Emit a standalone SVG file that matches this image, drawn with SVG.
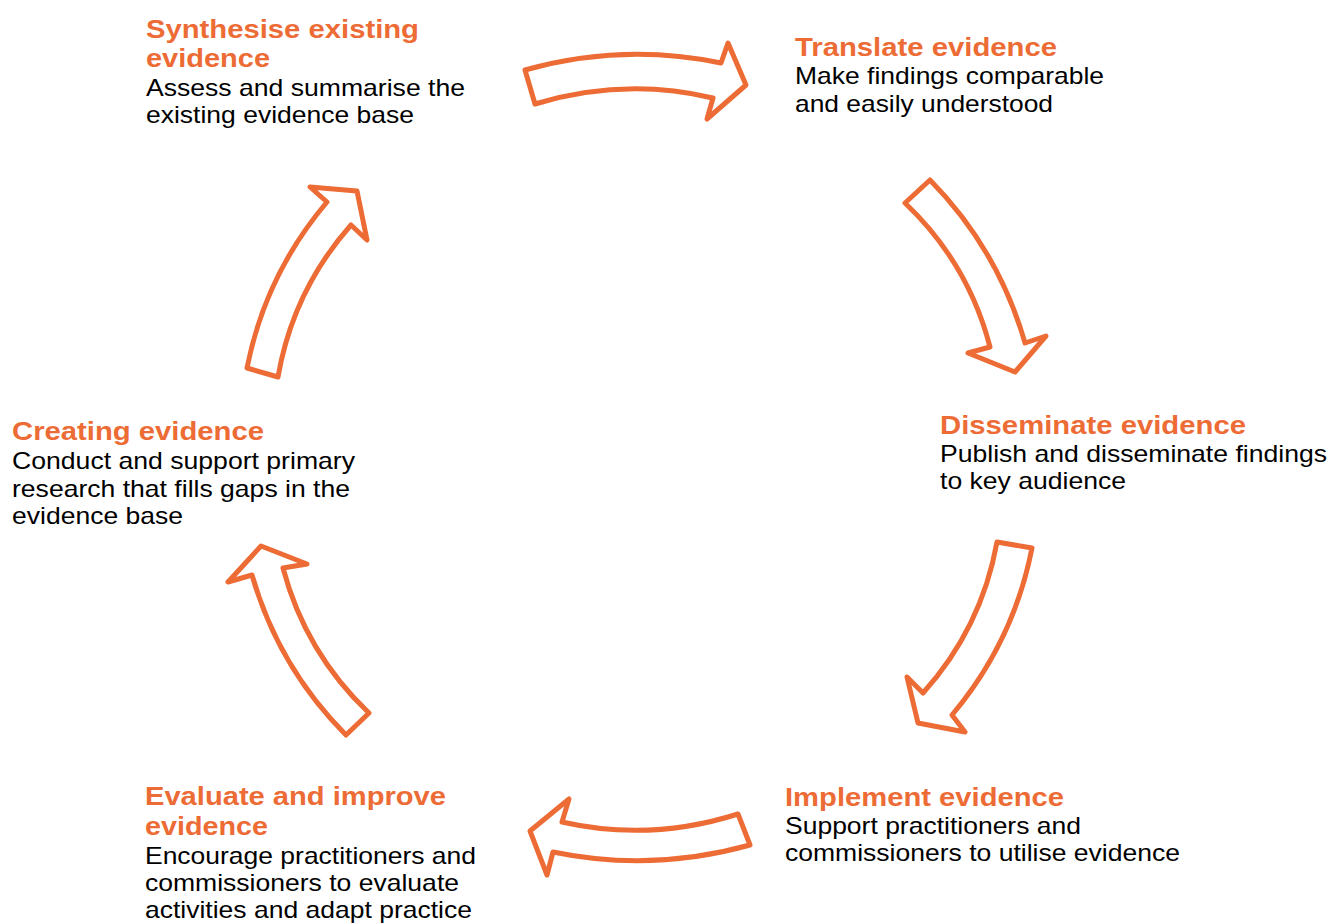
<svg xmlns="http://www.w3.org/2000/svg" width="1332" height="923" viewBox="0 0 1332 923">
<style>
.t{font-family:"Liberation Sans",Arial,sans-serif;font-weight:bold;font-size:25px;fill:#ED6B35}
.b{font-family:"Liberation Sans",Arial,sans-serif;font-size:24px;fill:#000}
.arr{fill:#fff;stroke:#ED6B35;stroke-width:5;stroke-linejoin:round}
</style>
<rect width="1332" height="923" fill="#fff"/>
<g id="connectors">
<path class="arr" d="M525 70 Q623 42.5 721 63 L728 43 L746 85 L707 119 L713 98 Q624 77 535 104 Z"/>
<path class="arr" d="M905 203 L930 180 Q998.2 249.4 1025 343 L1046 336 L1015 372 L968 353 L990 347 Q968.2 262.9 905 203 Z"/>
<path class="arr" d="M997 542 L1032 548 Q1013.6 641.9 952 715 L965 732 L918 723 L907 677 L923 693 Q981.6 627.9 997 542 Z"/>
<path class="arr" d="M738 814 L750 845 Q651.5 872.5 553 852 L547 875 L530 831 L569 799 L562 822 Q650 842 738 814 Z"/>
<path class="arr" d="M346 735 L369 713 Q305.4 652.7 283 568 L307 564 L261 546 L228 582 L252 575 Q278.4 667.2 346 735 Z"/>
<path class="arr" d="M247 368 L278 377 Q292.9 290.6 351 225 L367 240 L357 191 L310 187 L327 202 Q265.4 274.6 247 368 Z"/>
</g>
<g id="synthesise">
<text class="t" x="146" y="38" textLength="273" lengthAdjust="spacingAndGlyphs">Synthesise existing</text>
<text class="t" x="146" y="67" textLength="124" lengthAdjust="spacingAndGlyphs">evidence</text>
<text class="b" x="146" y="96" textLength="319" lengthAdjust="spacingAndGlyphs">Assess and summarise the</text>
<text class="b" x="146" y="123" textLength="268" lengthAdjust="spacingAndGlyphs">existing evidence base</text>
</g>
<g id="translate">
<text class="t" x="795" y="56" textLength="262" lengthAdjust="spacingAndGlyphs">Translate evidence</text>
<text class="b" x="795" y="84" textLength="309" lengthAdjust="spacingAndGlyphs">Make findings comparable</text>
<text class="b" x="795" y="112" textLength="258" lengthAdjust="spacingAndGlyphs">and easily understood</text>
</g>
<g id="disseminate">
<text class="t" x="940" y="434" textLength="306" lengthAdjust="spacingAndGlyphs">Disseminate evidence</text>
<text class="b" x="940" y="462" textLength="387" lengthAdjust="spacingAndGlyphs">Publish and disseminate findings</text>
<text class="b" x="940" y="489" textLength="186" lengthAdjust="spacingAndGlyphs">to key audience</text>
</g>
<g id="implement">
<text class="t" x="785" y="806" textLength="279" lengthAdjust="spacingAndGlyphs">Implement evidence</text>
<text class="b" x="785" y="834" textLength="296" lengthAdjust="spacingAndGlyphs">Support practitioners and</text>
<text class="b" x="785" y="861" textLength="395" lengthAdjust="spacingAndGlyphs">commissioners to utilise evidence</text>
</g>
<g id="evaluate">
<text class="t" x="145" y="805" textLength="301" lengthAdjust="spacingAndGlyphs">Evaluate and improve</text>
<text class="t" x="145" y="835" textLength="123" lengthAdjust="spacingAndGlyphs">evidence</text>
<text class="b" x="145" y="864" textLength="331" lengthAdjust="spacingAndGlyphs">Encourage practitioners and</text>
<text class="b" x="145" y="891" textLength="314" lengthAdjust="spacingAndGlyphs">commissioners to evaluate</text>
<text class="b" x="145" y="918" textLength="327" lengthAdjust="spacingAndGlyphs">activities and adapt practice</text>
</g>
<g id="creating">
<text class="t" x="12" y="440" textLength="252" lengthAdjust="spacingAndGlyphs">Creating evidence</text>
<text class="b" x="12" y="469" textLength="343" lengthAdjust="spacingAndGlyphs">Conduct and support primary</text>
<text class="b" x="12" y="497" textLength="338" lengthAdjust="spacingAndGlyphs">research that fills gaps in the</text>
<text class="b" x="12" y="524" textLength="171" lengthAdjust="spacingAndGlyphs">evidence base</text>
</g>
</svg>
